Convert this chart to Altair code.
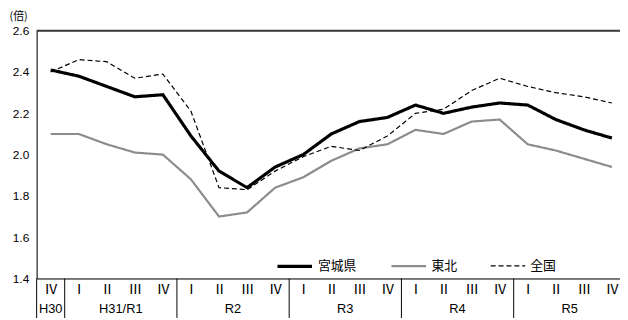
import json
import altair as alt
import pandas as pd

quarters = ["Ⅳ", "Ⅰ", "Ⅱ", "Ⅲ", "Ⅳ", "Ⅰ", "Ⅱ", "Ⅲ", "Ⅳ", "Ⅰ", "Ⅱ",
            "Ⅲ", "Ⅳ", "Ⅰ", "Ⅱ", "Ⅲ", "Ⅳ", "Ⅰ", "Ⅱ", "Ⅲ", "Ⅳ"]
years = ["H30", "H31/R1", "R2", "R3", "R4", "R5"]
year_centers = [0, 2.5, 6.5, 10.5, 14.5, 18.5]
year_bounds = [-0.5, 0.5, 4.5, 8.5, 12.5, 16.5]

series_names = ["宮城県", "東北", "全国"]
miyagi = [2.41, 2.38, 2.33, 2.28, 2.29, 2.09, 1.92, 1.84, 1.94, 2.00, 2.10,
          2.16, 2.18, 2.24, 2.20, 2.23, 2.25, 2.24, 2.17, 2.12, 2.08]
tohoku = [2.10, 2.10, 2.05, 2.01, 2.00, 1.88, 1.70, 1.72, 1.84, 1.89, 1.97,
          2.03, 2.05, 2.12, 2.10, 2.16, 2.17, 2.05, 2.02, 1.98, 1.94]
zenkoku = [2.40, 2.46, 2.45, 2.37, 2.39, 2.21, 1.84, 1.83, 1.92, 1.99, 2.04,
           2.02, 2.09, 2.20, 2.22, 2.31, 2.37, 2.33, 2.30, 2.28, 2.25]

rows = []
for name, vals in zip(series_names, [miyagi, tohoku, zenkoku]):
    for i, v in enumerate(vals):
        rows.append({"idx": i, "series": name, "value": v})
df = pd.DataFrame(rows)

W = 591
H = 251
XR = 597
JP = "Noto Sans CJK JP"
NUM = "Liberation Sans"

xscale = alt.Scale(domain=[-0.5, 20.5], range=[0, XR], nice=False, zero=False)
label_expr = json.dumps(quarters, ensure_ascii=False) + "[datum.value]"

lines = alt.Chart(df).mark_line(strokeJoin="miter").encode(
    x=alt.X("idx:Q", scale=xscale,
            axis=alt.Axis(values=list(range(21)), labelExpr=label_expr,
                          ticks=False, grid=False, domainColor="black",
                          domainWidth=1, labelFont=JP, labelFontSize=14,
                          labelColor="black", labelPadding=4, title=None,
                          labelFlush=False, labelOverlap=False,
                          labelBound=False)),
    y=alt.Y("value:Q",
            scale=alt.Scale(domain=[1.4, 2.6], nice=False, zero=False),
            axis=alt.Axis(values=[1.4, 1.6, 1.8, 2.0, 2.2, 2.4, 2.6],
                          format=".1f", ticks=False, grid=False,
                          domainColor="black", domainWidth=1,
                          labelFont=NUM, labelFontSize=12, labelColor="black",
                          labelPadding=8, title="(倍)", titleAngle=0,
                          titleFont=JP, titleFontSize=11,
                          titleFontWeight="normal", titleAlign="left",
                          titleBaseline="middle", titleX=-28, titleY=-14,
                          titleColor="black")),
    color=alt.Color("series:N",
                    scale=alt.Scale(domain=series_names,
                                    range=["black", "#8c8c8c", "black"]),
                    legend=alt.Legend(title=None, orient="none",
                                      legendX=242, legendY=219,
                                      direction="horizontal",
                                      symbolType="stroke", symbolSize=1225,
                                      labelFont=JP, labelFontSize=13,
                                      labelColor="black", labelOffset=4,
                                      columnPadding=30)),
    strokeWidth=alt.StrokeWidth("series:N",
                                scale=alt.Scale(domain=series_names,
                                                range=[3.2, 1.2, 1.5]),
                                legend=None),
    strokeDash=alt.StrokeDash("series:N",
                              scale=alt.Scale(domain=series_names,
                                              range=[[1, 0], [1, 0], [5, 3]]),
                              legend=None),
    detail="series:N",
)

sep_df = pd.DataFrame({"b": year_bounds})
seps = alt.Chart(sep_df).mark_rule(color="black", strokeWidth=1).encode(
    x=alt.X("b:Q", scale=xscale, axis=None),
    y=alt.value(H),
    y2=alt.value(H + 40),
)

yr_df = pd.DataFrame({"c": year_centers, "label": years})
yr_text = alt.Chart(yr_df).mark_text(font=NUM, fontSize=13, color="black",
                                     baseline="middle", align="center").encode(
    x=alt.X("c:Q", scale=xscale, axis=None),
    y=alt.value(H + 31),
    text="label:N",
)

top = alt.Chart(pd.DataFrame({"a": [0]})).mark_rule(
    color="#3a3a3a", strokeWidth=2).encode(
    x=alt.value(0), x2=alt.value(XR), y=alt.value(0))

chart = alt.layer(lines, seps, yr_text, top).properties(
    width=W, height=H,
    padding={"left": 29, "top": 21, "right": 0, "bottom": 38},
    autosize=alt.AutoSizeParams(type="none"),
).resolve_axis(x="independent").configure_view(stroke=None).configure(
    background="white")

chart.save("out.html", embed_options={"renderer": "svg", "actions": False})
